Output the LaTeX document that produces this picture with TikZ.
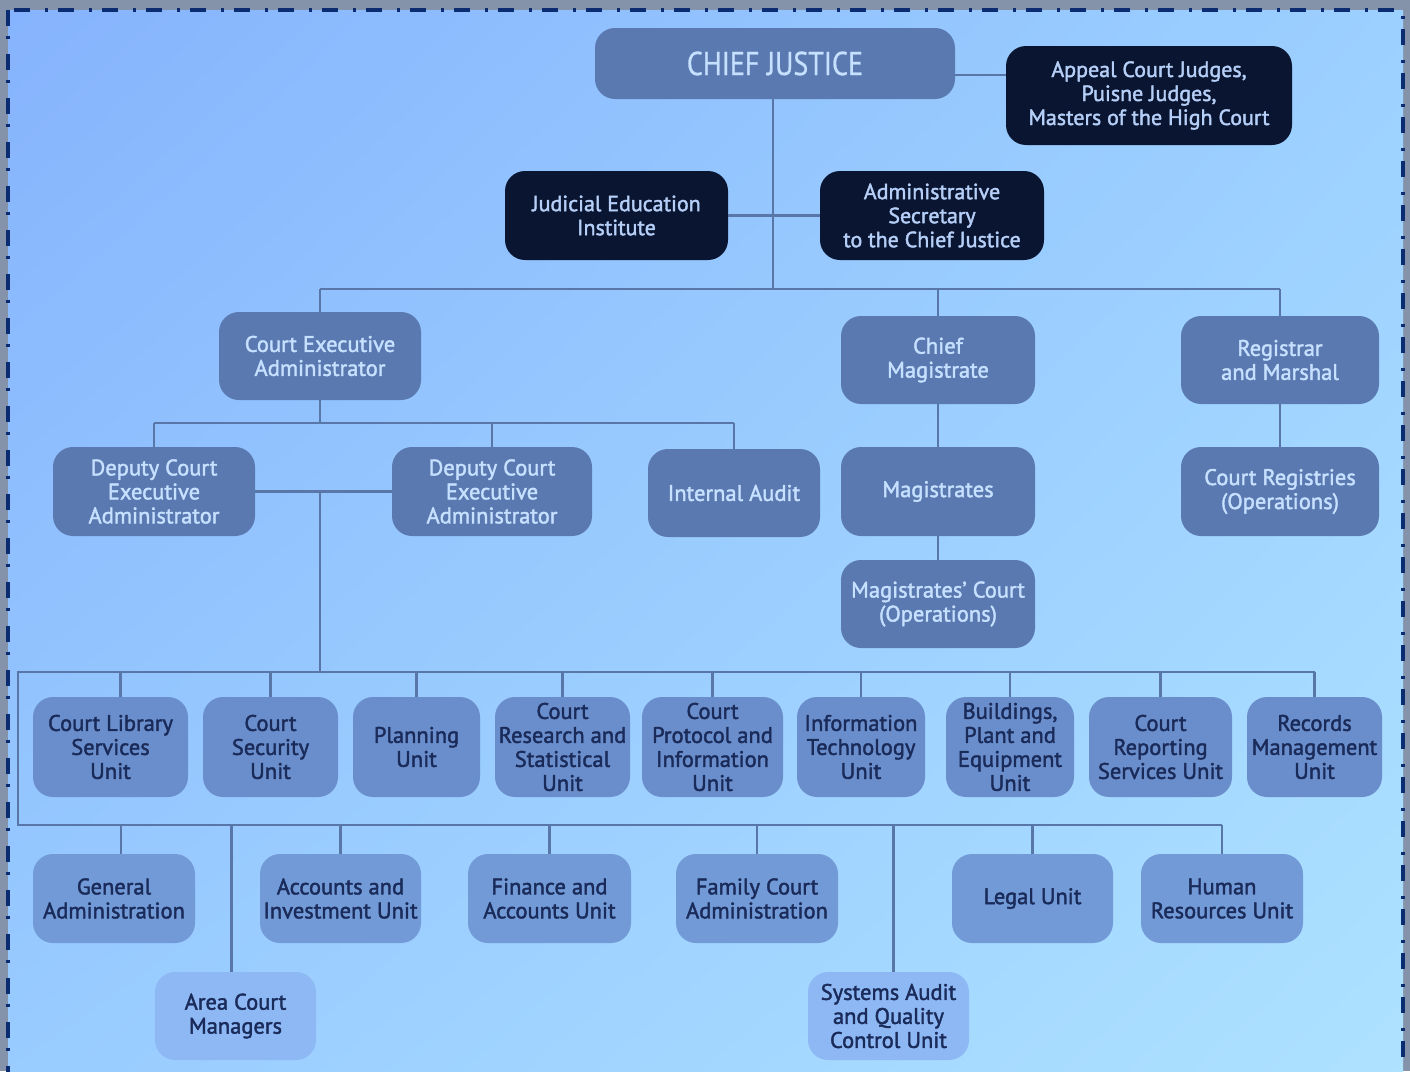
\documentclass[tikz,border=0pt]{standalone}
\usepackage{fontspec}
\setmainfont{PT Sans}[RawFeature={embolden=1.8}]
\newfontfamily\cjfont{PT Sans}[FakeStretch=0.85,RawFeature={embolden=0.8}]
\usetikzlibrary{calc,shadings}
\definecolor{outerC}{HTML}{8593AA}
\definecolor{bgTL}{HTML}{86B3FD}
\definecolor{bgTR}{HTML}{9CD0FF}
\definecolor{bgBL}{HTML}{99CCFF}
\definecolor{bgBR}{HTML}{AEE2FF}
\definecolor{borderC}{HTML}{0C2C72}
\definecolor{midF}{HTML}{5A79B0}
\definecolor{lightT}{HTML}{C6E0FF}
\definecolor{darkF}{HTML}{0A1631}
\definecolor{darkT}{HTML}{B6CFF8}
\definecolor{uA}{HTML}{6A8ECB}
\definecolor{uB}{HTML}{719AD7}
\definecolor{uC}{HTML}{8DB8F3}
\definecolor{navyT}{HTML}{1A2B5A}
\definecolor{lineC}{HTML}{5877A8}
\begin{document}
\begin{tikzpicture}[x=1pt,y=-1pt,
  box/.style={rounded corners=20pt, align=center, inner sep=0pt, font=\fontsize{22.5}{24}\selectfont},
  lvl/.style={box, fill=midF, text=lightT},
  dark/.style={box, fill=darkF, text=darkT, font=\fontsize{22}{24}\selectfont},
  unitA/.style={box, fill=uA, text=navyT},
  unitB/.style={box, fill=uB, text=navyT},
  unitC/.style={box, fill=uC, text=navyT},
  conn/.style={draw=lineC, line width=2.6pt},
  border/.style={draw=borderC, line width=4pt, dash pattern=on 16pt off 10pt on 3pt off 15pt}]
\clip (0,0) rectangle (1410,1071);
\fill[outerC] (0,0) rectangle (1410,1071);
\shade[upper left=bgTL, upper right=bgTR, lower left=bgBL, lower right=bgBR] (8,10) rectangle (1403,1090);
\draw[border] (8,10) rectangle (1403,1090);

% top level
\node[lvl, minimum width=360pt, minimum height=71pt, font=\cjfont\fontsize{33}{34}\selectfont] (cj) at (775,63.5) {CHIEF JUSTICE};
\node[dark, minimum width=286pt, minimum height=99pt] (app) at (1149,95.5) {Appeal Court Judges,\\Puisne Judges,\\Masters of the High Court};
\node[dark, minimum width=223pt, minimum height=89pt] (jei) at (616.5,215.5) {Judicial Education\\Institute};
\node[dark, minimum width=224pt, minimum height=89pt] (asec) at (932,215.5) {Administrative\\Secretary\\to the Chief Justice};

% second level
\node[lvl, minimum width=202pt, minimum height=88pt] (cea) at (320,356) {Court Executive\\Administrator};
\node[lvl, minimum width=194pt, minimum height=88pt] (cmag) at (938,360) {Chief\\Magistrate};
\node[lvl, minimum width=198pt, minimum height=88pt] (reg) at (1280,360) {Registrar\\and Marshal};
\node[lvl, minimum width=202pt, minimum height=89pt] (dep1) at (154,491.5) {Deputy Court\\Executive\\Administrator};
\node[lvl, minimum width=200pt, minimum height=89pt] (dep2) at (492,491.5) {Deputy Court\\Executive\\Administrator};
\node[lvl, minimum width=172pt, minimum height=88pt] (ia) at (734,493) {Internal Audit};
\node[lvl, minimum width=194pt, minimum height=89pt] (mags) at (938,491.5) {Magistrates};
\node[lvl, minimum width=194pt, minimum height=88pt] (magc) at (938,604) {Magistrates’ Court\\(Operations)};
\node[lvl, minimum width=198pt, minimum height=89pt] (creg) at (1280,491.5) {Court Registries\\(Operations)};

% middle row of units
\node[unitA, minimum width=155pt, minimum height=100pt] (lib) at (110.5,747) {Court Library\\Services\\Unit};
\node[unitA, minimum width=135pt, minimum height=100pt] (sec) at (270.5,747) {Court\\Security\\Unit};
\node[unitA, minimum width=127pt, minimum height=100pt] (plan) at (416.5,747) {Planning\\Unit};
\node[unitA, minimum width=135pt, minimum height=100pt] (res) at (562.5,747) {Court\\Research and\\Statistical\\Unit};
\node[unitA, minimum width=141pt, minimum height=100pt] (prot) at (712.5,747) {Court\\Protocol and\\Information\\Unit};
\node[unitA, minimum width=128pt, minimum height=100pt] (it) at (861,747) {Information\\Technology\\Unit};
\node[unitA, minimum width=128pt, minimum height=100pt] (bld) at (1010,747) {Buildings,\\Plant and\\Equipment\\Unit};
\node[unitA, minimum width=143pt, minimum height=100pt] (rep) at (1160.5,747) {Court\\Reporting\\Services Unit};
\node[unitA, minimum width=135pt, minimum height=100pt] (rec) at (1314.5,747) {Records\\Management\\Unit};

% bottom row of units
\node[unitB, minimum width=162pt, minimum height=89pt] (gen) at (114,898.5) {General\\Administration};
\node[unitB, minimum width=161pt, minimum height=89pt] (acc) at (340.5,898.5) {Accounts and\\Investment Unit};
\node[unitB, minimum width=163pt, minimum height=89pt] (fin) at (549.5,898.5) {Finance and\\Accounts Unit};
\node[unitB, minimum width=162pt, minimum height=89pt] (fam) at (757,898.5) {Family Court\\Administration};
\node[unitB, minimum width=161pt, minimum height=89pt] (leg) at (1032.5,898.5) {Legal Unit};
\node[unitB, minimum width=162pt, minimum height=89pt] (hr) at (1222,898.5) {Human\\Resources Unit};
\node[unitC, minimum width=161pt, minimum height=88pt] (area) at (235.5,1016) {Area Court\\Managers};
\node[unitC, minimum width=161pt, minimum height=88pt] (sys) at (888.5,1016) {Systems Audit\\and Quality\\Control Unit};

% connectors
\coordinate (tB) at (773,289);
\coordinate (tC) at (320,423);
\coordinate (barA) at (18,672);
\coordinate (barB) at (18,825);
\coordinate (cje) at ($(cj.east)+(0,11.5)$);
\draw[conn] (cje) -- (cje -| app.west);
\draw[conn] (cj.south -| tB) -- (tB);
\draw[conn] (jei.east) -- (asec.west);
\draw[conn] (cea.north |- tB) -- (reg.north |- tB);
\foreach \n in {cea,cmag,reg} \draw[conn] (\n.north) -- (\n.north |- tB);
\draw[conn] (cea.south) -- (tC);
\draw[conn] (dep1.north |- tC) -- (ia.north |- tC);
\foreach \n in {dep1,dep2,ia} \draw[conn] (\n.north) -- (\n.north |- tC);
\draw[conn] (cmag.south) -- (mags.north);
\draw[conn] (mags.south) -- (magc.north);
\draw[conn] (reg.south) -- (creg.north);
\draw[conn] (dep1.east) -- (dep2.west);
\draw[conn] (dep1.east -| tC) -- (tC |- barA);
\draw[conn] (rec.north |- barA) -- (barA) -- (barB) -- (hr.north |- barB);
\draw[conn] ([xshift=10pt]lib.north) -- ([xshift=10pt]lib.north |- barA);
\foreach \n in {sec,plan,res,prot,it,bld,rep,rec} \draw[conn] (\n.north) -- (\n.north |- barA);
\draw[conn] ([xshift=7pt]gen.north) -- ([xshift=7pt]gen.north |- barB);
\foreach \n in {acc,fin,fam,leg,hr} \draw[conn] (\n.north) -- (\n.north |- barB);
\draw[conn] ([xshift=-4pt]area.north) -- ([xshift=-4pt]area.north |- barB);
\draw[conn] ([xshift=5pt]sys.north) -- ([xshift=5pt]sys.north |- barB);
\end{tikzpicture}
\end{document}
